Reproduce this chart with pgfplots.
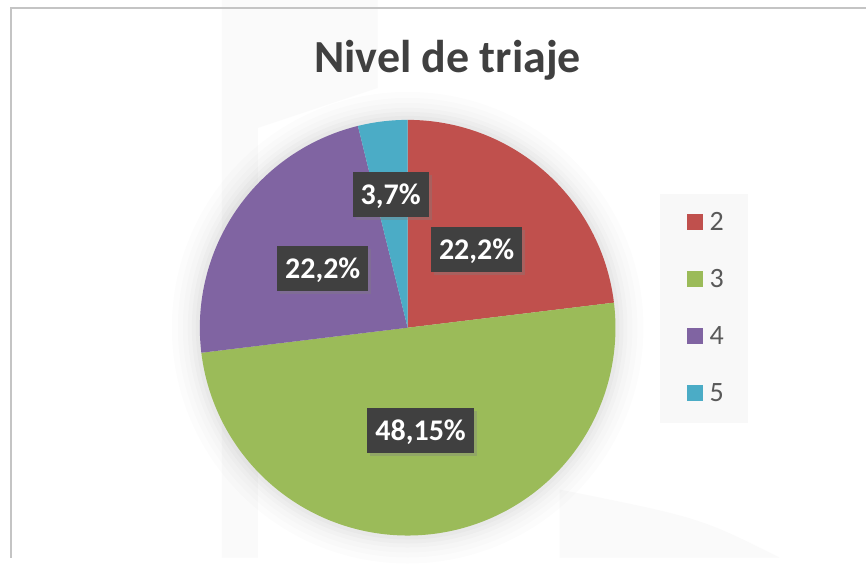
\documentclass[border=0pt]{standalone}
\usepackage{pgfplots}
\pgfplotsset{compat=1.18}
\usepackage{pgfplotstable}
\usepackage{fontspec}
\setmainfont{Carlito}
\usetikzlibrary{shadows}
\definecolor{cTwo}{HTML}{C0504D}
\definecolor{cThree}{HTML}{9BBB59}
\definecolor{cFour}{HTML}{8064A2}
\definecolor{cFive}{HTML}{4BACC6}
\definecolor{lblbg}{HTML}{404040}
\definecolor{titlec}{HTML}{404040}
\definecolor{legtext}{HTML}{595959}
\definecolor{legbg}{HTML}{F8F8F8}
\definecolor{borderc}{HTML}{C4C4C4}
\definecolor{wm}{HTML}{FAFAFA}
% counts per triage level (percentages shown as labels)
\pgfplotstableread{
level count pct
2 6 22.2
3 13 48.15
4 6 22.2
5 1 3.7
}\triaje
\begin{document}
\begin{tikzpicture}
\begin{axis}[width=867pt,height=558pt,scale only axis,
  xmin=0,xmax=867,ymin=0,ymax=558,hide axis,clip=false]
% background
\fill[white] (axis cs:0,0) rectangle (axis cs:867,558);
% faint watermark shapes
\fill[wm] (axis cs:222,558) -- (axis cs:378,558) -- (axis cs:378,470) -- (axis cs:258,430) -- (axis cs:258,0) -- (axis cs:222,0) -- cycle;
\fill[wm] (axis cs:560,68) .. controls (axis cs:700,40) .. (axis cs:780,0) -- (axis cs:560,0) -- cycle;
% border
\draw[borderc, line width=1.5pt] (axis cs:11,0) -- (axis cs:11,550) -- (axis cs:867,550);
% soft pie shadow
\fill[black, opacity=0.012] (axis cs:408,230) circle[radius=236pt];
\fill[black, opacity=0.012] (axis cs:408,230) circle[radius=230pt];
\fill[black, opacity=0.012] (axis cs:408,230) circle[radius=225pt];
\fill[black, opacity=0.015] (axis cs:408,230) circle[radius=220pt];
\fill[black, opacity=0.018] (axis cs:408,230) circle[radius=216pt];
\fill[black, opacity=0.02] (axis cs:408,230) circle[radius=212pt];
% slices: level 2 (6), 3 (13), 4 (6), 5 (1) of 26
\addplot[fill=cTwo, draw=none, domain=0:83.0769, samples=90]
  ({408+208*sin(x)}, {230+208*cos(x)}) -- (axis cs:408,230) -- cycle;
\addplot[fill=cThree, draw=none, domain=83.0769:263.0769, samples=180]
  ({408+208*sin(x)}, {230+208*cos(x)}) -- (axis cs:408,230) -- cycle;
\addplot[fill=cFour, draw=none, domain=263.0769:346.1538, samples=90]
  ({408+208*sin(x)}, {230+208*cos(x)}) -- (axis cs:408,230) -- cycle;
\addplot[fill=cFive, draw=none, domain=346.1538:360, samples=20]
  ({408+208*sin(x)}, {230+208*cos(x)}) -- (axis cs:408,230) -- cycle;
% data labels
\tikzset{lbl/.style={fill=lblbg, text=white, font=\bfseries\fontsize{30}{30}\selectfont,
  inner xsep=8pt, inner ysep=12.5pt, text height=20pt, text depth=0pt,
  drop shadow={shadow xshift=3pt, shadow yshift=-3pt, opacity=0.35}}}
\node[lbl] at (axis cs:477,308) {22,2\%};
\node[lbl] at (axis cs:421,127) {48,15\%};
\node[lbl] at (axis cs:323,289) {22,2\%};
\node[lbl] at (axis cs:391,363) {3,7\%};
% title
\node[anchor=base, text=titlec, font=\bfseries\fontsize{46}{46}\selectfont] at (axis cs:448,485) {Nivel de triaje};
% legend
\fill[legbg] (axis cs:661,135) rectangle (axis cs:749,364);
\fill[cTwo] (axis cs:688,328) rectangle (axis cs:704,344);
\fill[cThree] (axis cs:688,271) rectangle (axis cs:704,287);
\fill[cFour] (axis cs:688,214) rectangle (axis cs:704,230);
\fill[cFive] (axis cs:688,157) rectangle (axis cs:704,173);
\tikzset{leg/.style={anchor=base west, inner sep=0pt, text=legtext, font=\fontsize{28}{28}\selectfont}}
\node[leg] at (axis cs:710,327) {2};
\node[leg] at (axis cs:710,270) {3};
\node[leg] at (axis cs:710,213) {4};
\node[leg] at (axis cs:710,156) {5};
\end{axis}
\end{tikzpicture}
\end{document}
